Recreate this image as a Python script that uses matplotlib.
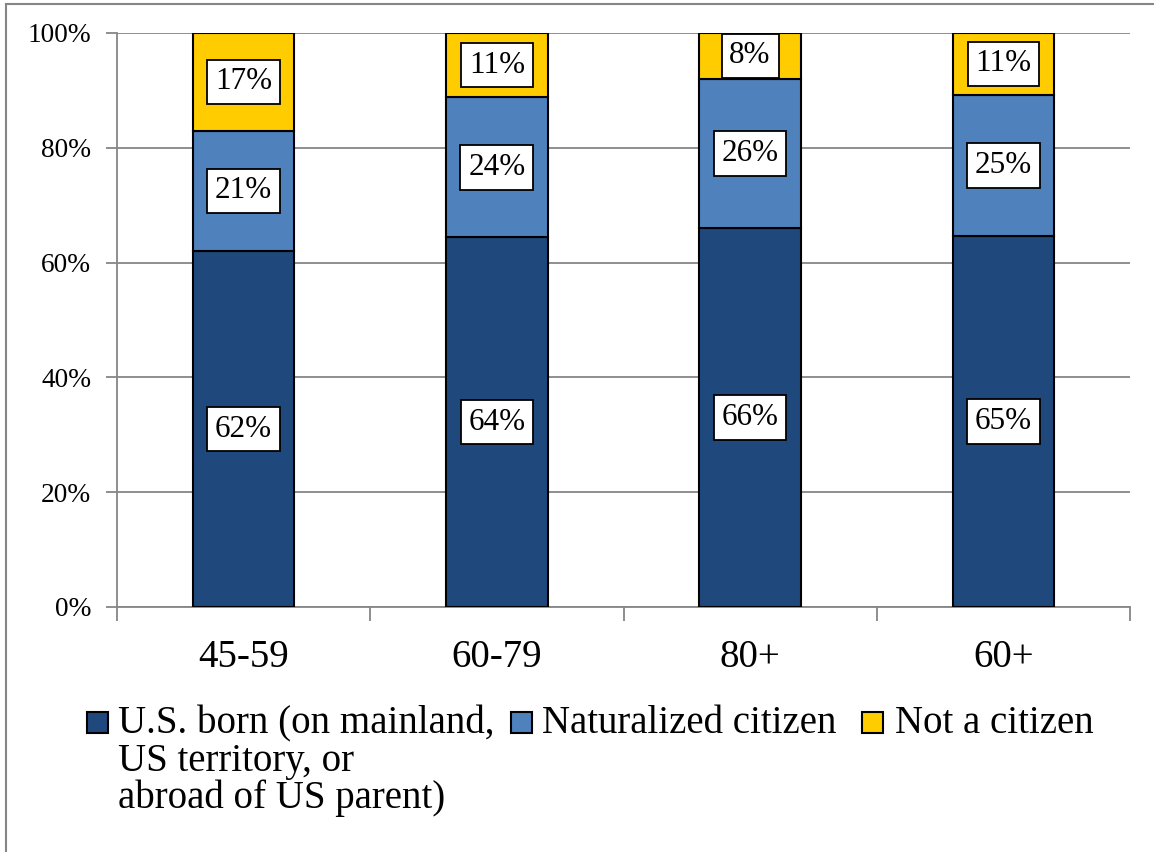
import matplotlib
matplotlib.use("Agg")
import matplotlib.pyplot as plt
import numpy as np
from matplotlib.patches import Rectangle
from matplotlib.lines import Line2D

categories = ["45-59", "60-79", "80+", "60+"]
us_born = [62.0, 64.4, 66.0, 64.6]
naturalized = [21.0, 24.4, 26.0, 24.6]
not_citizen = [17.0, 11.2, 8.0, 10.8]
series_names = ["U.S. born (on mainland,\nUS territory, or\nabroad of US parent)",
                "Naturalized citizen", "Not a citizen"]
colors = ["#1F497D", "#4F81BD", "#FFCC00"]
yticks = [0, 20, 40, 60, 80, 100]

plt.rcParams['font.family'] = ['Liberation Serif', 'DejaVu Serif']

W, H = 1154, 852
fig = plt.figure(figsize=(W/100, H/100), dpi=100)
ax = fig.add_axes([117/W, 1-607/H, (1130-117)/W, (607-33)/H])

x = np.arange(len(categories))
width = 0.40
bottom = np.zeros(len(categories))
for vals, col in zip([us_born, naturalized, not_citizen], colors):
    vals = np.array(vals)
    ax.bar(x, vals, width, bottom=bottom, color=col, edgecolor="black",
           linewidth=1.5, zorder=3)
    for xi, b, v in zip(x, bottom, vals):
        ax.text(xi, b + v/2, f"{round(v):d}%", ha="center", va="center",
                fontsize=22.4, zorder=5,
                bbox=dict(boxstyle="square,pad=0.25", fc="white", ec="black", lw=1.3))
    bottom += vals

ax.set_xlim(-0.5, len(categories) - 0.5)
ax.set_ylim(0, 100)
ax.set_yticks(yticks)
ax.set_yticklabels([f"{t}%" for t in yticks], fontsize=19.7)
ax.yaxis.grid(True, color="#868686", linewidth=1.3, zorder=0)
ax.set_axisbelow(True)
ax.tick_params(axis="y", length=8, width=1.3, color="#868686", pad=10.5)

ax.set_xticks(x)
ax.set_xticklabels(categories, fontsize=28)
ax.tick_params(axis="x", which="major", length=0, pad=23)
ax.set_xticks(np.arange(-0.5, len(categories)), minor=True)
ax.tick_params(axis="x", which="minor", length=10, width=1.3, color="#868686")

for s in ["top", "right"]:
    ax.spines[s].set_visible(False)
for s in ["left", "bottom"]:
    ax.spines[s].set_color("#868686")
    ax.spines[s].set_linewidth(1.3)

# legend (manual, markers aligned with first text line)
leg_marker_x = [87, 511, 862]
leg_text_x = [118, 542, 895]
leg_baseline = 733
line_step = 37.5
sq = 21
for mx, tx, name, col in zip(leg_marker_x, leg_text_x, series_names, colors):
    fig.add_artist(Rectangle((mx/W, 1-(722+sq/2)/H), sq/W, sq/H,
                             transform=fig.transFigure, fc=col, ec="black", lw=1.5))
    for i, line in enumerate(name.split("\n")):
        fig.text(tx/W, 1-(leg_baseline + i*line_step)/H, line, ha="left",
                 va="baseline", fontsize=28)

# frame remnants (top and left border)
fig.add_artist(Line2D([6/W, 1], [1-4/H, 1-4/H], transform=fig.transFigure,
                      color="#868686", lw=1.5))
fig.add_artist(Line2D([6/W, 6/W], [0, 1-4/H], transform=fig.transFigure,
                      color="#868686", lw=1.5))

fig.savefig("out.png", dpi=100)
